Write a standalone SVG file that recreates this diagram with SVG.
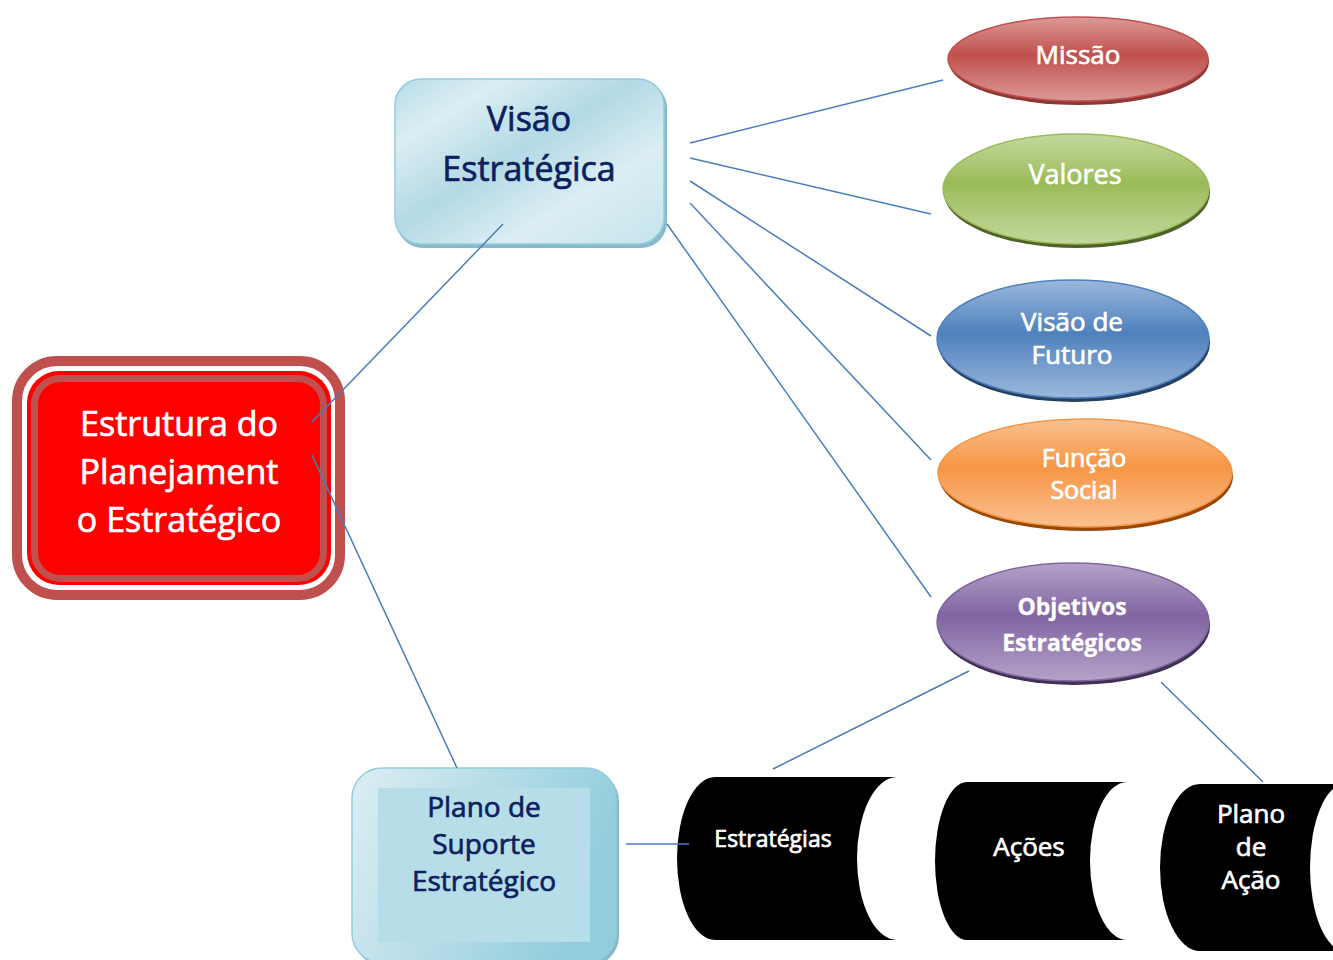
<svg xmlns="http://www.w3.org/2000/svg" width="1333" height="960" viewBox="0 0 1333 960">
<defs>
<linearGradient id="gBlueBox" x1="0" y1="0" x2="1" y2="1">
<stop offset="0" stop-color="#b7dde8"/>
<stop offset="0.2" stop-color="#dbeef3"/>
<stop offset="0.45" stop-color="#b3d9e5"/>
<stop offset="0.7" stop-color="#dbeef3"/>
<stop offset="1" stop-color="#c5e4ec"/>
</linearGradient>
<linearGradient id="gBlueBox2" x1="0" y1="0" x2="1" y2="0.3">
<stop offset="0" stop-color="#dbeef3"/>
<stop offset="0.5" stop-color="#b7dde8"/>
<stop offset="1" stop-color="#92cddc"/>
</linearGradient>
<linearGradient id="gRed" x1="0" y1="0" x2="0" y2="1">
<stop offset="0" stop-color="#dc9a98"/><stop offset="0.45" stop-color="#c0504d"/><stop offset="1" stop-color="#dc9a98"/>
</linearGradient>
<linearGradient id="gGreen" x1="0" y1="0" x2="0" y2="1">
<stop offset="0" stop-color="#c4d89e"/><stop offset="0.45" stop-color="#9bbb59"/><stop offset="1" stop-color="#c4d89e"/>
</linearGradient>
<linearGradient id="gBlue" x1="0" y1="0" x2="0" y2="1">
<stop offset="0" stop-color="#9bb8dc"/><stop offset="0.45" stop-color="#4f81bd"/><stop offset="1" stop-color="#9bb8dc"/>
</linearGradient>
<linearGradient id="gOrange" x1="0" y1="0" x2="0" y2="1">
<stop offset="0" stop-color="#fac090"/><stop offset="0.45" stop-color="#f79646"/><stop offset="1" stop-color="#fac090"/>
</linearGradient>
<linearGradient id="gPurple" x1="0" y1="0" x2="0" y2="1">
<stop offset="0" stop-color="#b4a3c9"/><stop offset="0.45" stop-color="#8064a2"/><stop offset="1" stop-color="#b4a3c9"/>
</linearGradient>
</defs>
<style>
.t{font-family:"Open Sans","DejaVu Sans",sans-serif;text-anchor:middle;stroke-width:0.7;paint-order:stroke}
.w{fill:#ffffff;stroke:#ffffff}
.n{fill:#0c1f5e;stroke:#0c1f5e}
.c{stroke:#4a7ebb;stroke-width:1.5;fill:none}
</style>
<rect x="0" y="0" width="1333" height="960" fill="#ffffff"/>
<g id="estrutura">
<rect x="17" y="361" width="323" height="234" rx="40" fill="#ffffff" stroke="#c0504d" stroke-width="10"/>
<rect x="27" y="371" width="304" height="214" rx="32" fill="#ff0000"/>
<rect x="34.5" y="378.5" width="289" height="200" rx="26" fill="#ff0000" stroke="#c0504d" stroke-width="7"/>
<text class="t w" font-size="34" x="179" y="436">Estrutura do</text>
<text class="t w" font-size="34" x="179" y="484">Planejament</text>
<text class="t w" font-size="34" x="179" y="532">o Estratégico</text>
</g>
<g id="visao-estrategica">
<rect x="397" y="82" width="270" height="166" rx="26" fill="#86b9c9"/>
<rect x="395" y="79" width="269" height="165" rx="26" fill="url(#gBlueBox)" stroke="#92cddc" stroke-width="1.5"/>
<text class="t n" font-size="34" x="529" y="131">Visão</text>
<text class="t n" font-size="34" x="529" y="181">Estratégica</text>
</g>
<g id="plano-suporte">
<rect x="354" y="771" width="265" height="195" rx="30" fill="#86b9c9"/>
<rect x="352" y="768" width="264" height="195" rx="30" fill="url(#gBlueBox2)" stroke="#92cddc" stroke-width="1.5"/>
<rect x="378" y="788" width="212" height="154" fill="#b7dde8"/>
<text class="t n" font-size="28" x="484" y="817">Plano de</text>
<text class="t n" font-size="28" x="484" y="854">Suporte</text>
<text class="t n" font-size="28" x="484" y="891">Estratégico</text>
</g>
<g id="missao">
<ellipse cx="1079" cy="62" rx="130" ry="43" fill="#8c3836"/>
<ellipse cx="1078" cy="59" rx="130" ry="42" fill="url(#gRed)" stroke="#c0504d" stroke-width="1.5"/>
<text class="t w" font-size="26" x="1078" y="64">Missão</text>
</g>
<g id="valores">
<ellipse cx="1077" cy="193" rx="133" ry="55" fill="#4f6228"/>
<ellipse cx="1076" cy="189" rx="133" ry="55" fill="url(#gGreen)" stroke="#9bbb59" stroke-width="1.5"/>
<text class="t w" font-size="27" x="1075" y="184">Valores</text>
</g>
<g id="visao-futuro">
<ellipse cx="1074" cy="343" rx="136" ry="59" fill="#254061"/>
<ellipse cx="1073" cy="339" rx="136" ry="59" fill="url(#gBlue)" stroke="#4f81bd" stroke-width="1.5"/>
<text class="t w" font-size="26" x="1072" y="331">Visão de</text>
<text class="t w" font-size="26" x="1072" y="364">Futuro</text>
</g>
<g id="funcao-social">
<ellipse cx="1086" cy="477" rx="147" ry="54" fill="#984807"/>
<ellipse cx="1085" cy="473" rx="147" ry="54" fill="url(#gOrange)" stroke="#f79646" stroke-width="1.5"/>
<text class="t w" font-size="25" x="1084" y="467">Função</text>
<text class="t w" font-size="25" x="1084" y="499">Social</text>
</g>
<g id="objetivos">
<ellipse cx="1074" cy="626" rx="136" ry="59" fill="#3f3151"/>
<ellipse cx="1073" cy="622" rx="136" ry="59" fill="url(#gPurple)" stroke="#8064a2" stroke-width="1.5"/>
<text class="t w" font-size="23" font-weight="bold" x="1072" y="615" style="stroke-width:0.3">Objetivos</text>
<text class="t w" font-size="23" font-weight="bold" x="1072" y="651" style="stroke-width:0.3">Estratégicos</text>
</g>
<g id="estrategias">
<path d="M715,777 L897,777 A40 81.5 0 0 0 897 940 L715,940 A38 81.5 0 0 1 715 777 Z" fill="#000000"/>
<text class="t w" font-size="23" x="773" y="847">Estratégias</text>
</g>
<g id="acoes">
<path d="M967,782 L1127,782 A37 79 0 0 0 1127 940 L967,940 A32 79 0 0 1 967 782 Z" fill="#000000"/>
<text class="t w" font-size="26" x="1029" y="856">Ações</text>
</g>
<g id="plano-acao">
<path d="M1200,784 L1345,784 A35 83.5 0 0 0 1345 951 L1200,951 A40 83.5 0 0 1 1200 784 Z" fill="#000000"/>
<text class="t w" font-size="26" x="1251" y="823">Plano</text>
<text class="t w" font-size="26" x="1251" y="856">de</text>
<text class="t w" font-size="26" x="1251" y="889">Ação</text>
</g>
<g id="connectors">
<line class="c" x1="312" y1="422" x2="503" y2="224"/>
<line class="c" x1="312" y1="455" x2="457" y2="768"/>
<line class="c" x1="690" y1="143" x2="943" y2="80"/>
<line class="c" x1="690" y1="158" x2="931" y2="214"/>
<line class="c" x1="690" y1="181" x2="931" y2="336"/>
<line class="c" x1="690" y1="203" x2="931" y2="460"/>
<line class="c" x1="667" y1="224" x2="931" y2="597"/>
<line class="c" x1="969" y1="671" x2="773" y2="769"/>
<line class="c" x1="1161" y1="682" x2="1263" y2="782"/>
<line class="c" x1="626" y1="844" x2="689" y2="844"/>
</g>
</svg>
